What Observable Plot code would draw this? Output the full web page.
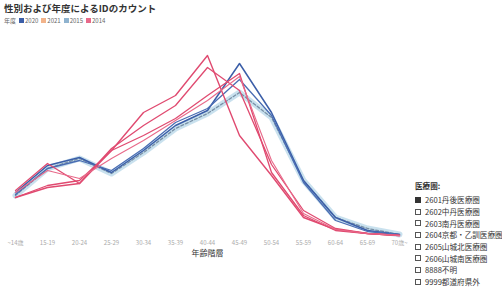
<!DOCTYPE html>
<html><head><meta charset="utf-8">
<script src="https://cdn.jsdelivr.net/npm/d3@7"></script>
<script src="https://cdn.jsdelivr.net/npm/@observablehq/plot@0.6"></script>
<style>
body{margin:0;background:#fff;width:502px;height:294px;overflow:hidden;position:relative;font-family:"Noto Sans CJK JP","Noto Sans",sans-serif;}
#title{position:absolute;left:4px;top:1px;font-size:9.5px;font-weight:bold;color:#333;white-space:nowrap;}
#sub{position:absolute;left:4px;top:16px;font-size:6px;color:#666;white-space:nowrap;display:flex;align-items:center;gap:3px;}
#sub .sw{display:inline-block;width:5px;height:5px;margin-right:1px;}
#chart{position:absolute;left:0;top:28px;}
#legend{position:absolute;left:415px;top:180px;font-size:7.6px;color:#333;white-space:nowrap;}
#legend .h{font-weight:bold;margin-bottom:3px;}
#legend .it{display:flex;align-items:center;height:11.7px;}
#legend .box{display:inline-block;width:6px;height:6px;margin-right:4px;border:1px dashed #555;box-sizing:border-box;}
#legend .box.on{background:#333;border:1px solid #333;}
</style></head>
<body>
<div id="title">性別および年度によるIDのカウント</div>
<div id="sub"></div>
<div id="chart"></div>
<div id="legend"></div>
<script>
const ageLabels = ["~14歳","15-19","20-24","25-29","30-34","35-39","40-44","45-49","50-54","55-59","60-64","65-69","70歳~"];
const yearLegend = ["2020","2021","2015","2014"];
const yearColors = ["#3b5ea8","#f2b38a","#8fb3cf","#e8698a"];
const areaLegend = ["2601丹後医療圏","2602中丹医療圏","2603南丹医療圏","2604京都・乙訓医療圏","2605山城北医療圏","2606山城南医療圏","8888不明","9999都道府県外"];

const seriesHighlight = [41,68,78,63,84,108,123,144,119,56,19,8,2];
const seriesBlue1 = [44,71,79,64,86,111,126,173,124,56,19,6,2];
const seriesBlue2 = [42,68,76,66,88,114,128,157,121,54,16,5,2];
const seriesRedA = [39,49,53,86,124,141,181,101,61,19,7,3,1];
const seriesRedB = [46,73,53,88,111,131,169,146,72,26,8,3,1];
const seriesRedC = [39,51,56,86,101,118,141,163,64,21,6,3,1];
const seriesRedD = [44,66,58,78,96,116,136,160,76,23,7,3,1];

const toRows = arr => arr.map((v,i)=>({age:ageLabels[i], v}));

const sub = document.getElementById("sub");
sub.innerHTML = "<span>年度</span>" + yearLegend.map((y,i)=>`<span><span class="sw" style="background:${yearColors[i]}"></span>${y}</span>`).join("");

const lg = document.getElementById("legend");
lg.innerHTML = `<div class="h">医療圏:</div>` + areaLegend.map((a,i)=>`<div class="it"><span class="box${i===0?" on":""}"></span>${a}</div>`).join("");

const redColor = "#e04a70";
const chart = Plot.plot({
  width: 502, height: 266,
  marginLeft: 13, marginRight: 101, marginTop: 28, marginBottom: 58,
  x: {type:"point", domain: ageLabels, padding: 0},
  y: {domain:[0,180], axis:null},
  style: {fontFamily:'"Noto Sans CJK JP","Noto Sans",sans-serif', background:"#fff"},
  marks: [
    Plot.axisX({tickSize:0, tickPadding:4, fontSize:6, fill:"#aaa", label:null}),
    Plot.text(["年齢階層"], {frameAnchor:"bottom", dy:19, fontSize:8, fill:"#333"}),
    Plot.line(toRows(seriesHighlight), {x:"age", y:"v", stroke:"#c3deec", strokeWidth:6, strokeOpacity:0.9}),
    Plot.line(toRows(seriesHighlight), {x:"age", y:"v", stroke:"#7890a6", strokeWidth:1.3, strokeDasharray:"3,2"}),
    Plot.line(toRows(seriesBlue1), {x:"age", y:"v", stroke:"#3b5ea8", strokeWidth:1.5}),
    Plot.line(toRows(seriesBlue2), {x:"age", y:"v", stroke:"#4a6db3", strokeWidth:1.3}),
    Plot.line(toRows(seriesRedA), {x:"age", y:"v", stroke:redColor, strokeWidth:1.4}),
    Plot.line(toRows(seriesRedB), {x:"age", y:"v", stroke:redColor, strokeWidth:1.3}),
    Plot.line(toRows(seriesRedC), {x:"age", y:"v", stroke:redColor, strokeWidth:1.3}),
    Plot.line(toRows(seriesRedD), {x:"age", y:"v", stroke:"#e86a8a", strokeWidth:1.1})
  ]
});
document.getElementById("chart").appendChild(chart);
</script>
</body></html>
